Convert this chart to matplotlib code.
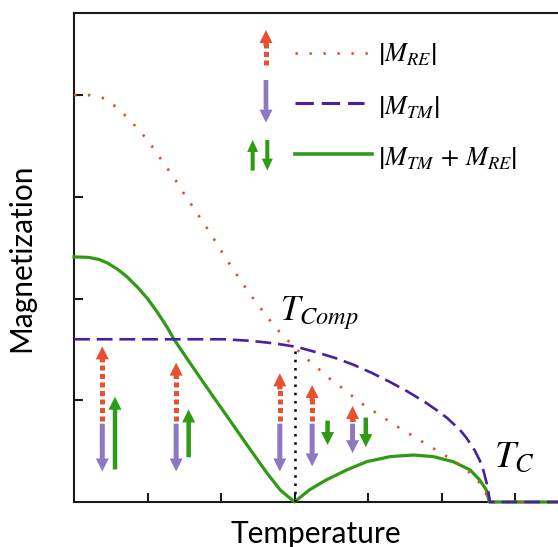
import numpy as np
import matplotlib.pyplot as plt
from matplotlib.patches import FancyArrowPatch

plt.rcParams['mathtext.fontset'] = 'stix'
plt.rcParams['font.family'] = ['Lato', 'DejaVu Sans']

# --- curves (temperature, magnetization) ---
t_re = [0, 0.22, 0.41, 0.60, 0.78, 0.94, 1.09, 1.22, 1.36, 1.48, 1.61, 1.71, 1.84,
        1.96, 2.08, 2.20, 2.35, 2.48, 2.65, 2.80, 2.96, 3.13, 3.31, 3.50, 3.69, 3.87,
        4.05, 4.245, 4.435, 4.626, 4.813, 5.003, 5.194, 5.388, 5.547, 5.637, 5.65, 6.70]
m_re = [4.00, 4.00, 3.97, 3.87, 3.74, 3.61, 3.47, 3.33, 3.19, 3.05, 2.91, 2.80, 2.66,
        2.52, 2.38, 2.25, 2.09, 1.96, 1.80, 1.67, 1.55, 1.43, 1.32, 1.20, 1.10, 0.99,
        0.905, 0.814, 0.725, 0.643, 0.56, 0.479, 0.39, 0.288, 0.167, 0.036, 0.0, 0.0]

t_tm = [0, 1.0, 2.04, 2.40, 2.72, 2.90, 3.03, 3.31, 3.58, 3.80, 4.05, 4.30, 4.53,
        4.78, 4.94, 5.07, 5.25, 5.34, 5.45, 5.52, 5.57, 5.62, 5.65, 5.66, 6.70]
m_tm = [1.60, 1.60, 1.60, 1.585, 1.56, 1.54, 1.525, 1.47, 1.41, 1.35, 1.27, 1.18, 1.09,
        0.98, 0.90, 0.83, 0.71, 0.63, 0.51, 0.41, 0.31, 0.17, 0.05, 0.0, 0.0]

t_tot = [0, 0.20, 0.34, 0.45, 0.59, 0.72, 0.86, 1.00, 1.13, 1.27, 1.36, 1.50, 1.68,
         1.90, 2.09, 2.36, 2.63, 2.81, 3.0, 3.20, 3.43, 3.71, 3.98, 4.30, 4.62, 4.89,
         5.16, 5.39, 5.52, 5.61, 5.65, 6.70]
m_tot = [2.41, 2.405, 2.385, 2.352, 2.29, 2.215, 2.115, 2.00, 1.87, 1.715, 1.60, 1.45,
         1.26, 1.03, 0.835, 0.555, 0.28, 0.115, 0.0, 0.118, 0.216, 0.315, 0.396, 0.446,
         0.462, 0.446, 0.396, 0.315, 0.216, 0.118, 0.0, 0.0]

t_comp = 3.0
m_comp = 1.53

# --- moment arrows (x position, tips) ---
arr_x = [0.385, 1.39, 2.80, 3.24, 3.79]
re_tip = [1.53, 1.37, 1.265, 1.15, 0.944]
re_base = [0.80, 0.80, 0.80, 0.80, 0.80]
tm_base = [0.77, 0.77, 0.77, 0.77, 0.77]
tm_tip = [0.30, 0.30, 0.30, 0.35, 0.48]
net_x = [0.558, 1.56, 3.45, 3.97]
net_start = [0.32, 0.44, 0.80, 0.83]
net_tip = [1.035, 0.91, 0.56, 0.54]

c_re = '#e8472a'
c_re_arrow = '#e8502f'
c_tm = '#4a1fa3'
c_tm_arrow = '#8d79c3'
c_tot = '#2f9a14'

fig = plt.figure(figsize=(5.58, 5.47), dpi=100)
ax = fig.add_axes([74 / 558, 45 / 547, 484 / 558, 489 / 547])
ax.set_xlim(0, 6.585)
ax.set_ylim(0, 4.808)

ppy = 489 / 4.808   # px per unit y
ms = 72 / fig.dpi   # arrowstyle params in pixels


def head(x, y0, y1, color, hl=13, hw=13, tw=5):
    ax.add_patch(FancyArrowPatch((x, y0), (x, y1),
                 arrowstyle=f'simple,head_length={hl},head_width={hw},tail_width={tw}',
                 mutation_scale=ms, color=color, lw=0, shrinkA=0, shrinkB=0,
                 zorder=5, clip_on=False))


def dotted_arrow(x, y0, y1, color, hl=13, hw=13):
    sgn = np.sign(y1 - y0)
    hd = hl / ppy
    ax.plot([x, x], [y0, y1 - sgn * hd], color=color, lw=3.6,
            linestyle=(0, (1, 0.7)), dash_capstyle='butt', zorder=5)
    head(x, y1 - sgn * (hd + 3 / ppy), y1, color, hl, hw)


# curves
ax.plot(t_tot, m_tot, color=c_tot, lw=2.3, zorder=3, clip_on=False)
ax.plot(t_re, m_re, color=c_re, lw=1.9, linestyle=(0, (0.9, 4.4)), zorder=3, clip_on=False)
ax.plot(t_tm, m_tm, color=c_tm, lw=1.9, linestyle=(0, (6, 2.6)), zorder=3, clip_on=False)
ax.plot([t_comp, t_comp], [0, m_comp], color='black', lw=1.8,
        linestyle=(0, (1, 2.3)), zorder=3)

# arrows in the plot
for x, b, t in zip(arr_x, re_base, re_tip):
    dotted_arrow(x, b, t, c_re_arrow)
for x, b, t in zip(arr_x, tm_base, tm_tip):
    head(x, b, t, c_tm_arrow)
for x, b, t in zip(net_x, net_start, net_tip):
    head(x, b, t, c_tot, hl=13, hw=13, tw=4.5)

# labels on curves
ax.text(2.80, 1.79, r'$T_{Comp}$', fontsize=25, ha='left', va='baseline')
ax.text(5.72, 0.347, r'$T_C$', fontsize=27, ha='left', va='baseline')

# legend drawn by hand
dotted_arrow(2.612, 4.297, 4.641, c_re_arrow)
head(2.612, 4.149, 3.730, c_tm_arrow, tw=4.7)
head(2.431, 3.258, 3.560, c_tot, hl=12, hw=11, tw=4)
head(2.630, 3.560, 3.258, c_tot, hl=12, hw=11, tw=4)
ax.plot([3.007, 4.027], [4.418, 4.418], color=c_re, lw=1.9, linestyle=(0, (0.9, 4.4)))
ax.plot([3.007, 3.95], [3.920, 3.920], color=c_tm, lw=2.2, linestyle=(0, (6, 2.6)))
ax.plot([3.007, 4.06], [3.422, 3.422], color=c_tot, lw=2.6)
ax.text(4.136, 4.40, r'$\left|M_{RE}\right|$', fontsize=19, va='center')
ax.text(4.136, 3.884, r'$\left|M_{TM}\right|$', fontsize=19, va='center')
ax.text(4.136, 3.38, r'$\left|M_{TM}\,+\,M_{RE}\right|$', fontsize=19, va='center')

# axes styling
for side in ['left', 'top', 'bottom']:
    ax.spines[side].set_linewidth(1.5)
    ax.spines[side].set_color('#1a1a1a')
ax.spines['right'].set_visible(False)
ax.set_xticks([1, 2, 3, 4, 5, 6])
ax.set_yticks([1, 2, 3, 4])
ax.tick_params(direction='in', length=6.5, width=1.5, color='#1a1a1a',
               labelbottom=False, labelleft=False)

ax.set_xlabel('Temperature', fontsize=21.5)
ax.set_ylabel('Magnetization', fontsize=21.5)
ax.xaxis.set_label_coords(0.5, -0.036)
ax.yaxis.set_label_coords(-0.08, 0.5)

fig.savefig('out.png', dpi=100)
